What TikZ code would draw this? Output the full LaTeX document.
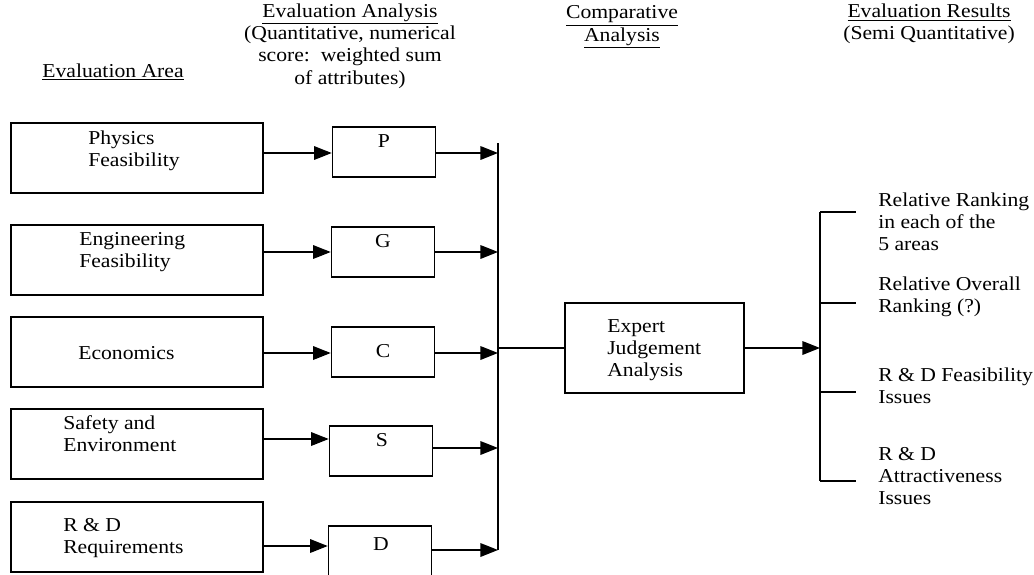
\documentclass[tikz,border=0pt]{standalone}
\usepackage{fontspec}
\setmainfont{Liberation Serif}[FakeStretch=1.1]
\usetikzlibrary{arrows.meta}

\tikzset{
  areabox/.style={draw, line width=1.2pt, minimum width=6.3cm, minimum height=1.75cm, inner sep=0pt},
  scorebox/.style={draw, line width=1.1pt, minimum width=2.575cm, minimum height=1.25cm, inner sep=0pt},
  judgebox/.style={draw, line width=1.1pt, minimum width=4.475cm, minimum height=2.25cm, inner sep=0pt},
  txt/.style={anchor=west, align=left, inner sep=0pt},
  head/.style={align=center, inner sep=0pt},
  arr/.style={line width=1pt, -{Triangle[length=4.4mm,width=3.4mm]}},
  link/.style={line width=1pt},
  bus/.style={line width=1.5pt}
}

\begin{document}
\begin{tikzpicture}[x=0.025cm, y=-0.025cm, font=\fontsize{14}{15.8}\selectfont]
\useasboundingbox (0,0) rectangle (1034,574);

% column headings
\node[head] (harea) at (113,72) {\underline{Evaluation Area}};
\node[head] (hanal) at (350,46) {\underline{Evaluation Analysis}\\(Quantitative, numerical\\score:\ \ weighted sum\\of attributes)};
\node[head] (hcomp) at (622,27) {\underline{Comparative}\\\underline{Analysis}};
\node[head] (hres) at (929,24) {\underline{Evaluation Results}\\(Semi Quantitative)};

% evaluation areas
\node[areabox] (phys) at (137,158) {};
\node[areabox] (eng) at (137,260) {};
\node[areabox] (econ) at (137,352) {};
\node[areabox] (saf) at (137,444) {};
\node[areabox] (rd) at (137,537) {};
\node[txt] (physt) at (88,151) {Physics\\Feasibility};
\node[txt] (engt) at (79,252) {Engineering\\Feasibility};
\node[txt] (econt) at (78,353) {Economics};
\node[txt] (saft) at (63,434) {Safety and\\Environment};
\node[txt] (rdt) at (63,538) {R \& D\\Requirements};

% scores
\node[scorebox] (P) at (384,152) {};
\node[scorebox] (G) at (383,252) {};
\node[scorebox] (C) at (383,352) {};
\node[scorebox] (S) at (381,451) {};
\node[scorebox] (D) at (380,551) {};
\node (Pt) at (384,141) {P};
\node (Gt) at (383,241) {G};
\node (Ct) at (383,351) {C};
\node (St) at (382,440) {S};
\node (Dt) at (381,544) {D};

% collecting line
\coordinate (bustop) at (498,143);
\coordinate (busbot) at (498,550);
\draw[bus] (bustop) -- (busbot);

\foreach \a/\b/\yi/\yo in {phys/P/153/153, eng/G/252/252, econ/C/353/353, saf/S/439/448, rd/D/546/550}
{
  \draw[arr] (\a.east |- 0,\yi) -- (\b.west |- 0,\yi);
  \draw[arr] (\b.east |- 0,\yo) -- (bustop |- 0,\yo);
}

% comparative analysis
\node[judgebox] (judge) at (654.5,348) {};
\node[txt] (judget) at (607,350) {Expert\\Judgement\\Analysis};
\draw[link] (bustop |- judge.west) -- (judge.west);

% results
\coordinate (restop) at (820,212);
\coordinate (resbot) at (820,481);
\draw[bus] (restop) -- (resbot);
\draw[arr] (judge.east) -- (restop |- judge.east);
\foreach \y in {212,303,392,481}
  \draw[link] (restop |- 0,\y) -- ++(36,0);

\node[txt] (rank) at (878,222) {Relative Ranking\\in each of the\\5 areas};
\node[txt] (overall) at (878,297) {Relative Overall\\Ranking (?)};
\node[txt] (feas) at (878,386) {R \& D Feasibility\\Issues};
\node[txt] (attr) at (878,476) {R \& D\\Attractiveness\\Issues};
\end{tikzpicture}
\end{document}
